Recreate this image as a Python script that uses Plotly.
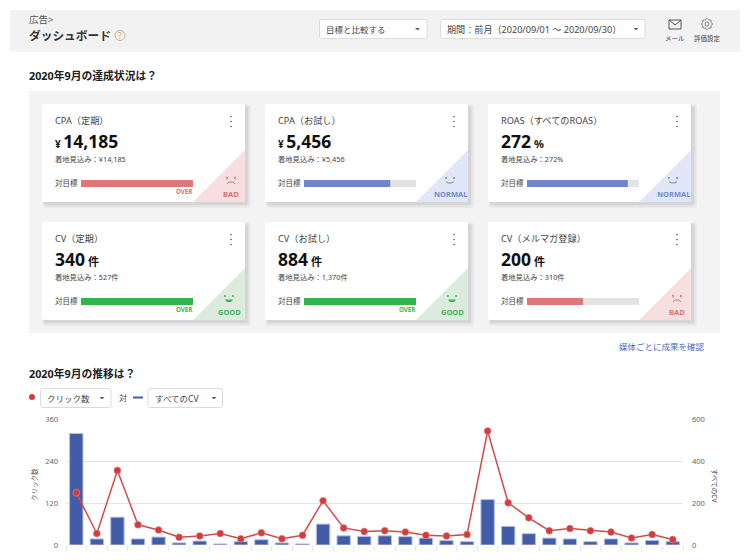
import math

import plotly.graph_objects as go

W, H = 750, 560
FONT = "Noto Sans, Noto Sans CJK JP"

# chart data, one entry per day of September
days = [f"9/{d}" for d in range(1, 31)]
clicks = [150, 33, 214, 58, 43, 22, 26, 33, 18, 35, 18, 28, 127, 49, 39,
          41, 37, 28, 26, 30, 327, 121, 78, 41, 47, 41, 37, 20, 30, 16]
all_cv = [533, 29, 133, 29, 38, 10, 19, 5, 16, 25, 10, 5, 100, 44, 41,
          44, 40, 33, 21, 16, 217, 89, 54, 33, 29, 16, 29, 10, 22, 16]
click_ticks = [0, 120, 240, 360]
cv_ticks = [0, 200, 400, 600]

# KPI cards
card_titles = ["CPA（定期）", "CPA（お試し）", "ROAS（すべてのROAS）",
               "CV（定期）", "CV（お試し）", "CV（メルマガ登録）"]
card_values = ["14,185", "5,456", "272", "340", "884", "200"]
card_prefix = ["¥ ", "¥ ", "", "", "", ""]
card_suffix = ["", "", " %", " 件", " 件", " 件"]
card_forecast = ["着地見込み：¥14,185", "着地見込み：¥5,456", "着地見込み：272%",
                 "着地見込み：527件", "着地見込み：1,370件", "着地見込み：310件"]
card_progress = [100, 77, 90, 100, 100, 50]
card_status = ["BAD", "NORMAL", "NORMAL", "GOOD", "GOOD", "BAD"]

bar_colors = {"BAD": "#dc7877", "NORMAL": "#6f86c9", "GOOD": "#35b44a"}
tri_colors = {"BAD": "#f6dfde", "NORMAL": "#e2e7f8", "GOOD": "#dcebdd"}
label_colors = {"BAD": "#e07070", "NORMAL": "#6f8ad0", "GOOD": "#3cb651"}
status_inset = {"BAD": 14, "NORMAL": 18, "GOOD": 16}

card_x = [42, 265, 488]
card_y = [104, 222]
CARD_W, CARD_H = 203, 98


def px(x):
    return x / W


def py(y):
    return 1 - y / H


shapes = []
annotations = []


def rect(x0, y0, x1, y1, fill, border=None, opacity=1, radius=0):
    line = dict(color=border, width=1) if border else dict(width=0)
    if radius:
        r = radius
        rx, ry = r / W, r / H
        a, b, c, d = px(x0), py(y0), px(x1), py(y1)
        path = (f"M {a + rx} {b} L {c - rx} {b} Q {c} {b} {c} {b - ry} "
                f"L {c} {d + ry} Q {c} {d} {c - rx} {d} L {a + rx} {d} "
                f"Q {a} {d} {a} {d + ry} L {a} {b - ry} Q {a} {b} {a + rx} {b} Z")
        shapes.append(dict(type="path", path=path, xref="paper", yref="paper", fillcolor=fill,
                           line=line, opacity=opacity, layer="below"))
    else:
        shapes.append(dict(type="rect", xref="paper", yref="paper", x0=px(x0), x1=px(x1),
                           y0=py(y0), y1=py(y1), fillcolor=fill, line=line,
                           opacity=opacity, layer="below"))


def poly(points, fill=None, color=None, width=1, closed=True):
    path = "M " + " L ".join(f"{px(x)} {py(y)}" for x, y in points)
    if closed:
        path += " Z"
    shapes.append(dict(type="path", path=path, xref="paper", yref="paper",
                       fillcolor=fill if fill else "rgba(0,0,0,0)",
                       line=dict(color=color, width=width) if color else dict(width=0),
                       layer="below"))


def circle(cx, cy, r, fill=None, color=None, width=1):
    shapes.append(dict(type="circle", xref="paper", yref="paper",
                       x0=px(cx - r), x1=px(cx + r), y0=py(cy - r), y1=py(cy + r),
                       fillcolor=fill if fill else "rgba(0,0,0,0)",
                       line=dict(color=color, width=width) if color else dict(width=0),
                       layer="below"))


def label(x, y, text, size=8, color="#333333", anchor="left", bold=False, angle=0):
    annotations.append(dict(x=px(x), y=py(y), xref="paper", yref="paper", showarrow=False,
                            text=f"<b>{text}</b>" if bold else text, xanchor=anchor, yanchor="middle",
                            align=anchor, textangle=angle, font=dict(family=FONT, size=size, color=color),
                            borderpad=0, borderwidth=0))


def dropdown(x0, x1, y0, y1, text, tri_x, size=8.5):
    rect(x0, y0, x1, y1, "#ffffff", border="#dcdcdc", radius=2)
    label(x0 + 6.5, (y0 + y1) / 2, text, size=size, color="#444444")
    my = (y0 + y1) / 2
    poly([(tri_x - 2.5, my - 1), (tri_x + 2.5, my - 1), (tri_x, my + 1.5)], fill="#666666")


def face(cx, cy, status, color):
    if status == "GOOD":
        circle(cx - 4, cy - 3, 1, fill=color)
        circle(cx + 4, cy - 3, 1, fill=color)
        poly([(cx - 4, cy + 0.5), (cx + 4, cy + 0.5), (cx + 2, cy + 3), (cx - 2, cy + 3)], fill=color)
    elif status == "NORMAL":
        circle(cx - 4, cy - 3, 1, fill=color)
        circle(cx + 4, cy - 3, 1, fill=color)
        poly([(cx - 4, cy + 0.5), (cx - 2, cy + 2), (cx + 2, cy + 2), (cx + 4, cy + 0.5)],
             color=color, width=1, closed=False)
    else:
        poly([(cx - 5, cy - 4), (cx - 3, cy - 3), (cx - 5, cy - 1.5)], color=color, width=1, closed=False)
        poly([(cx + 5, cy - 4), (cx + 3, cy - 3), (cx + 5, cy - 1.5)], color=color, width=1, closed=False)
        poly([(cx - 4, cy + 3), (cx - 2, cy + 1), (cx + 2, cy + 1), (cx + 4, cy + 3)],
             color=color, width=1, closed=False)


def gear(cx, cy):
    pts = []
    for k in range(16):
        r = 5.6 if k % 2 == 0 else 4.5
        a = k * math.pi / 8
        pts.append((cx + r * math.cos(a), cy + r * math.sin(a)))
    poly(pts, color="#666666", width=0.8)
    circle(cx, cy, 2, color="#666666", width=0.8)


# page header
rect(10, 49, 740, 52, "#000000", opacity=0.04)
rect(10, 10, 740, 49.5, "#f2f2f2")
label(29, 20, "広告&gt;", size=9.5, color="#555555")
label(29, 35, "ダッシュボード", size=11.7, color="#333333", bold=True)
circle(120, 35.5, 5, color="#d2b27c", width=1)
label(120, 35.5, "?", size=8, color="#c9a566", anchor="center")
dropdown(319.5, 427, 19.5, 38.5, "目標と比較する", 417.5)
dropdown(440.5, 645, 19.5, 38.5, "期間：前月（2020/09/01 ～ 2020/09/30）", 636, size=9.1)
rect(669, 20, 681, 29, "#f2f2f2", border="#555555")
poly([(669, 20), (675, 25), (681, 20)], color="#555555", closed=False)
gear(707, 24)
label(675, 39, "メール", size=6.5, color="#444444", anchor="center")
label(707, 39, "評価設定", size=6.5, color="#444444", anchor="center")

# KPI block
label(29, 76, "2020年9月の達成状況は？", size=10.8, color="#222222", bold=True)
rect(29, 91, 720, 333, "#f3f3f3")

for i in range(6):
    x0 = card_x[i % 3]
    y0 = card_y[i // 3]
    x1 = x0 + CARD_W
    y1 = y0 + CARD_H
    status = card_status[i]
    for grow, alpha in [(5, 0.03), (3.5, 0.04), (2, 0.05)]:
        rect(x0 + 3 - grow / 2, y0 + 3 - grow / 2, x1 + 1 + grow, y1 + 1 + grow, "#000000",
             opacity=alpha, radius=3)
    rect(x0, y0, x1, y1, "#ffffff", radius=2)
    poly([(x1, y1 - 52), (x1, y1), (x1 - 52, y1)], fill=tri_colors[status])
    for dy in (-5, 0, 5):
        circle(x0 + 189, y0 + 17.5 + dy, 0.8, fill="#555555")
    label(x0 + 13, y0 + 16, card_titles[i], size=9.2, color="#444444")
    value = f"<b><span style='font-size:10px'>{card_prefix[i]}</span>{card_values[i]}" \
            f"<span style='font-size:11px'>{card_suffix[i]}</span></b>"
    label(x0 + 13, y0 + 37, value, size=17.5, color="#111111")
    label(x0 + 13, y0 + 55, card_forecast[i], size=7.3, color="#444444")
    label(x0 + 13, y0 + 79, "対目標", size=7.5, color="#444444")
    if card_progress[i] >= 100:
        label(x0 + 151, y0 + 87, "OVER", size=6.2, color=label_colors[status], anchor="right", bold=True)
    face(x1 - status_inset[status], y0 + 77, status, label_colors[status])
    label(x1 - status_inset[status], y0 + 89.5, status, size=7.5, color=label_colors[status],
          anchor="center", bold=True)

label(705, 346, "媒体ごとに成果を確認", size=8.5, color="#4a6cc0", anchor="right")

# chart controls
label(29, 373, "2020年9月の推移は？", size=10.8, color="#222222", bold=True)
circle(32, 397, 3, fill="#d13c3f")
dropdown(40.5, 111, 388.5, 407.5, "クリック数", 102)
label(122.5, 397.5, "対", size=8, color="#444444", anchor="center")
rect(133, 396.5, 143, 398.5, "#435ca8")
dropdown(148, 222.5, 388.5, 407.5, "すべてのCV", 214)
label(34, 485, "クリック数", size=6.5, color="#444444", anchor="center", angle=-90)
label(715, 485, "すべてのCV", size=6.5, color="#444444", anchor="center", angle=90)

fig = go.Figure()

# bars on the first pair of axes so the click line stays on top
fig.add_trace(go.Bar(x=days, y=all_cv, marker=dict(color="#435ca8", line=dict(color="#b4c0e0", width=1)),
                     width=0.65, xaxis="x", yaxis="y"))
fig.add_trace(go.Scatter(x=days, y=clicks, mode="lines+markers", xaxis="x", yaxis="y2",
                         line=dict(color="#d44a4a", width=1.5),
                         marker=dict(color="#d13c3f", size=7, line=dict(color="#e8a0a0", width=0.5))))

# one small axis pair per progress gauge
gauge_layout = {}
for i in range(6):
    n = i + 3
    x0 = card_x[i % 3] + 39
    y0 = card_y[i // 3] + 76
    fig.add_trace(go.Bar(y=[card_titles[i]], x=[100], orientation="h", width=1,
                         marker=dict(color="#e3e3e3", line=dict(width=0)), xaxis=f"x{n}", yaxis=f"y{n}"))
    fig.add_trace(go.Bar(y=[card_titles[i]], x=[card_progress[i]], orientation="h", width=1,
                         marker=dict(color=bar_colors[card_status[i]], line=dict(width=0)),
                         xaxis=f"x{n}", yaxis=f"y{n}"))
    gauge_layout[f"xaxis{n}"] = dict(domain=[px(x0), px(x0 + 112)], range=[0, 100], visible=False,
                                     anchor=f"y{n}", fixedrange=True)
    gauge_layout[f"yaxis{n}"] = dict(domain=[py(y0 + 7), py(y0)], visible=False, anchor=f"x{n}",
                                     fixedrange=True)

fig.update_layout(
    width=W, height=H,
    margin=dict(l=0, r=0, t=0, b=0),
    paper_bgcolor="#ffffff",
    plot_bgcolor="rgba(0,0,0,0)",
    showlegend=False,
    barmode="overlay",
    font=dict(family=FONT, size=8, color="#555555"),
    shapes=shapes,
    annotations=annotations,
    xaxis=dict(domain=[px(66), px(683)], anchor="y", range=[-0.5, 29.5], type="category",
               tickmode="array", tickvals=days, ticktext=[""] * len(days), tickson="boundaries",
               ticks="outside", ticklen=5, tickcolor="#e6e6e6", tickwidth=1,
               showline=False, showgrid=False, zeroline=False, automargin=False),
    yaxis=dict(domain=[py(545), py(419.5)], anchor="x", side="right", range=[0, 600], tickvals=cv_ticks,
               showgrid=True, gridcolor="#e4e4e4", gridwidth=1, zeroline=False, showline=False,
               ticks="", ticklabelstandoff=8, tickfont=dict(size=7.5, color="#666666"), automargin=False),
    yaxis2=dict(domain=[py(545), py(419.5)], anchor="x", overlaying="y", side="left", range=[0, 360],
                tickvals=click_ticks, showgrid=False, zeroline=False, showline=False,
                ticks="", ticklabelstandoff=7, tickfont=dict(size=7.5, color="#666666"), automargin=False),
    **gauge_layout,
)

fig.write_html("out.html", config=dict(displayModeBar=False),
               post_script="document.body.style.margin='0';")
